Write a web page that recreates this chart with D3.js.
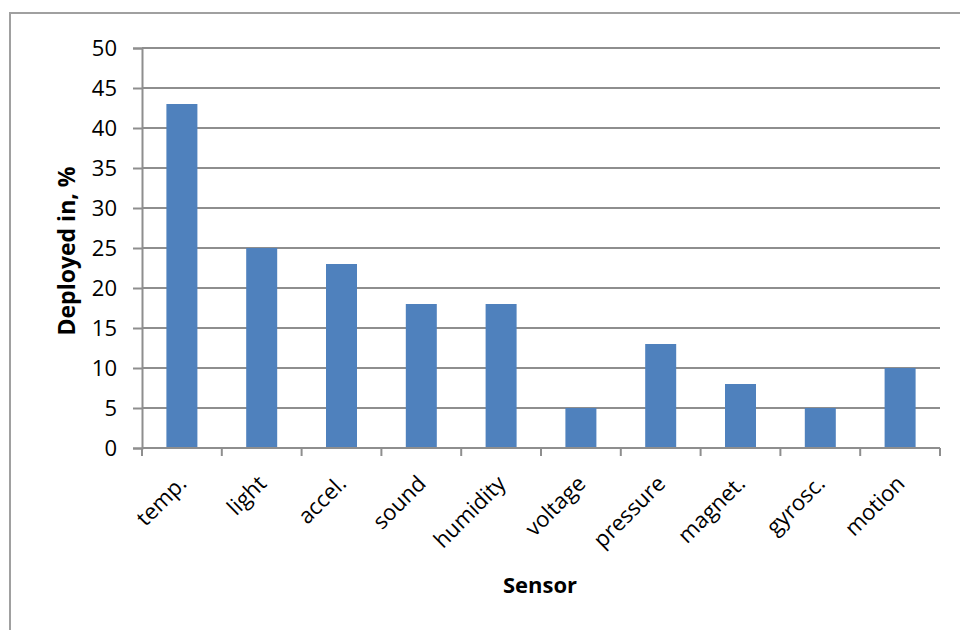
<!DOCTYPE html>
<html>
<head>
<meta charset="utf-8">
<script src="https://cdn.jsdelivr.net/npm/d3@7"></script>
<style>
  html, body { margin: 0; padding: 0; background: #fff; }
  svg { display: block; font-family: "Open Sans", "Liberation Sans", sans-serif; }
</style>
</head>
<body>
<svg id="chart" width="960" height="630"></svg>
<script>
// Sensor deployment shares
const sensors = ["temp.", "light", "accel.", "sound", "humidity", "voltage", "pressure", "magnet.", "gyrosc.", "motion"];
const deployedPct = [43, 25, 23, 18, 18, 5, 13, 8, 5, 10];
const yTicks = [0, 5, 10, 15, 20, 25, 30, 35, 40, 45, 50];

const svg = d3.select("#chart");
const plotLeft = 142, plotRight = 940, plotTop = 48, plotBottom = 448;

// outer chart frame (runs off the right and bottom edges)
svg.append("rect")
  .attr("x", 10).attr("y", 13)
  .attr("width", 1000).attr("height", 1000)
  .attr("fill", "none").attr("stroke", "#a0a0a0").attr("stroke-width", 2);

const x = d3.scaleBand().domain(sensors).range([plotLeft, plotRight]).paddingInner(0).paddingOuter(0);
const y = d3.scaleLinear().domain([0, 50]).range([plotBottom, plotTop]);

const gray = "#8e8e8e";

// horizontal gridlines
svg.append("g").selectAll("line").data(yTicks.filter(d => d > 0)).join("line")
  .attr("x1", plotLeft).attr("x2", plotRight)
  .attr("y1", d => y(d)).attr("y2", d => y(d))
  .attr("stroke", gray).attr("stroke-width", 2);

// y axis with left tick stubs
const yAxis = d3.axisLeft(y).tickValues(yTicks).tickSize(9).tickPadding(16).tickFormat(d3.format("d"));
const gy = svg.append("g").attr("transform", `translate(${plotLeft},0)`).call(yAxis);
gy.select(".domain").attr("stroke", gray).attr("stroke-width", 2);
gy.selectAll(".tick line").attr("stroke", gray).attr("stroke-width", 2);
gy.selectAll(".tick text").attr("font-size", 22).attr("fill", "#000")
  .attr("font-family", "'Open Sans', sans-serif");

// bars
const barW = 31;
svg.append("g").selectAll("rect").data(sensors).join("rect")
  .attr("x", d => x(d) + x.bandwidth() / 2 - barW / 2)
  .attr("y", (d, i) => y(deployedPct[i]))
  .attr("width", barW)
  .attr("height", (d, i) => y(0) - y(deployedPct[i]))
  .attr("fill", "#4F81BD");

// x axis with boundary ticks
const gx = svg.append("g").attr("transform", `translate(0,${plotBottom})`);
gx.append("line").attr("x1", plotLeft).attr("x2", plotRight).attr("stroke", gray).attr("stroke-width", 2);
const edges = sensors.map(s => x(s)).concat([plotRight]);
gx.selectAll("line.tk").data(edges).join("line").attr("class", "tk")
  .attr("x1", d => d).attr("x2", d => d).attr("y1", 0).attr("y2", 8)
  .attr("stroke", gray).attr("stroke-width", 2);

// rotated category labels
gx.selectAll("text").data(sensors).join("text")
  .attr("transform", d => `translate(${x(d) + x.bandwidth() / 2 + 6},${37}) rotate(-45)`)
  .attr("text-anchor", "end")
  .attr("font-size", 22)
  .attr("fill", "#000")
  .text(d => d);

// axis titles
svg.append("text")
  .attr("transform", `translate(75,251) rotate(-90)`)
  .attr("text-anchor", "middle")
  .attr("font-size", 23).attr("font-weight", "bold")
  .text("Deployed in, %");

svg.append("text")
  .attr("x", 540).attr("y", 593)
  .attr("text-anchor", "middle")
  .attr("font-size", 22).attr("font-weight", "bold")
  .text("Sensor");
</script>
</body>
</html>
